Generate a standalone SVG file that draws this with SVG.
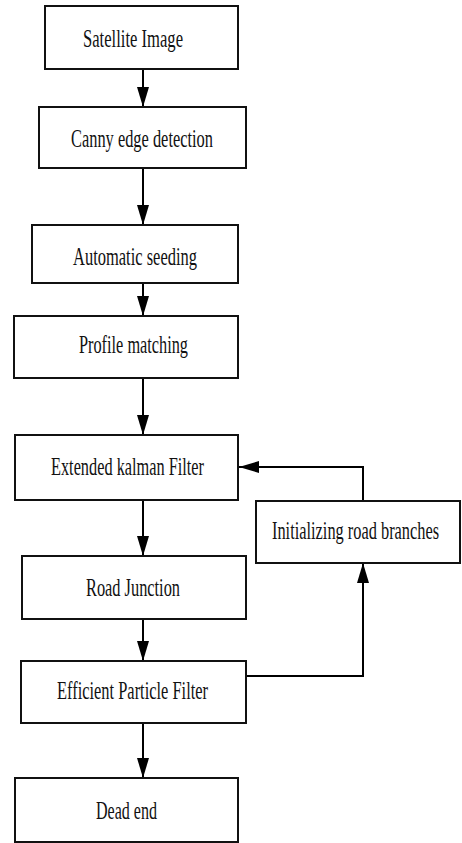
<svg xmlns="http://www.w3.org/2000/svg" width="462" height="843" viewBox="0 0 462 843">
<defs>
<marker id="ah" viewBox="0 0 20 12" refX="20" refY="6" markerWidth="20" markerHeight="12" markerUnits="userSpaceOnUse" orient="auto">
<path d="M0,0 L20,6 L0,12 Z" fill="#000"/>
</marker>
<style>
.box{fill:#fff;stroke:#111;stroke-width:2}
.lbl{font-family:"Liberation Serif","Times New Roman",serif;font-size:26px;fill:#111}
.con{fill:none;stroke:#000;stroke-width:2}
</style>
</defs>
<rect width="462" height="843" fill="#fff"/>
<g id="connectors">
<line class="con" x1="143" y1="69" x2="143" y2="107" marker-end="url(#ah)"/>
<line class="con" x1="143" y1="168" x2="143" y2="225" marker-end="url(#ah)"/>
<line class="con" x1="143" y1="283" x2="143" y2="316" marker-end="url(#ah)"/>
<line class="con" x1="143" y1="378" x2="143" y2="435" marker-end="url(#ah)"/>
<line class="con" x1="143" y1="500" x2="143" y2="556" marker-end="url(#ah)"/>
<line class="con" x1="143" y1="619" x2="143" y2="661" stroke-width="1.2" marker-end="url(#ah)"/>
<line class="con" x1="143" y1="723" x2="143" y2="778" marker-end="url(#ah)"/>
<polyline class="con" points="363,501 363,467 239,467" marker-end="url(#ah)"/>
<polyline class="con" points="244,676 363,676 363,563" marker-end="url(#ah)"/>
</g>
<g id="n1"><rect class="box" x="45" y="6" width="193" height="63"/><text class="lbl" x="83" y="47" textLength="100" lengthAdjust="spacingAndGlyphs">Satellite Image</text></g>
<g id="n2"><rect class="box" x="39" y="107" width="207" height="61"/><text class="lbl" x="71" y="147" textLength="142" lengthAdjust="spacingAndGlyphs">Canny edge detection</text></g>
<g id="n3"><rect class="box" x="32" y="225" width="206" height="58"/><text class="lbl" x="73" y="265" textLength="124" lengthAdjust="spacingAndGlyphs">Automatic seeding</text></g>
<g id="n4"><rect class="box" x="14" y="316" width="224" height="62"/><text class="lbl" x="79" y="353" textLength="109" lengthAdjust="spacingAndGlyphs">Profile matching</text></g>
<g id="n5"><rect class="box" x="15" y="435" width="223" height="65"/><text class="lbl" x="51" y="475" textLength="153" lengthAdjust="spacingAndGlyphs">Extended kalman Filter</text></g>
<g id="n6"><rect class="box" x="22" y="556" width="224" height="63"/><text class="lbl" x="86" y="596" textLength="94" lengthAdjust="spacingAndGlyphs">Road Junction</text></g>
<g id="n7"><rect class="box" x="21" y="661" width="225" height="62"/><text class="lbl" x="57" y="699" textLength="151" lengthAdjust="spacingAndGlyphs">Efficient Particle Filter</text></g>
<g id="n8"><rect class="box" x="15" y="778" width="223" height="64"/><text class="lbl" x="96" y="819" textLength="61" lengthAdjust="spacingAndGlyphs">Dead end</text></g>
<g id="n9"><rect class="box" x="256" y="501" width="204" height="62"/><text class="lbl" transform="translate(272,539) scale(0.628,1)" x="0" y="0" textLength="266" lengthAdjust="spacingAndGlyphs">Initializing road branches</text></g>
</svg>
